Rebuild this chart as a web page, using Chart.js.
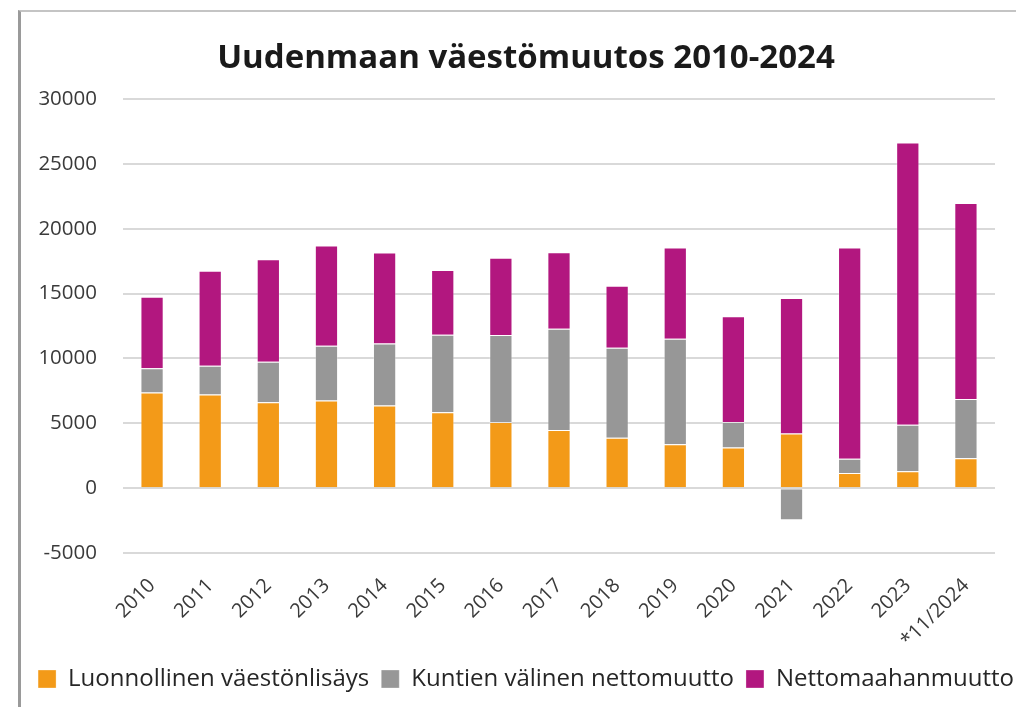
<!DOCTYPE html>
<html>
<head>
<meta charset="utf-8">
<script src="https://cdn.jsdelivr.net/npm/chart.js@4/dist/chart.umd.min.js"></script>
<style>
  html, body { margin: 0; padding: 0; background: #ffffff; overflow: hidden; width: 1016px; height: 707px; }
  #frame { position: absolute; left: 18px; top: 10px; width: 1100px; height: 760px;
           border-left: 3px solid #9a9a9a; border-top: 2px solid #c4c4c4; }
  #wrap { position: absolute; left: 0; top: 0; width: 1010px; height: 695px; }
</style>
</head>
<body>
<div id="frame"><div id="wrap"><canvas id="c" width="1010" height="695"></canvas></div></div>
<script>
const categories = ['2010','2011','2012','2013','2014','2015','2016','2017','2018','2019','2020','2021','2022','2023','*11/2024'];
const luonnollinen = [7370, 7220, 6630, 6750, 6370, 5860, 5090, 4490, 3880, 3390, 3130, 4210, 1160, 1310, 2310];
const kuntienValinen = [1880, 2210, 3110, 4220, 4780, 5960, 6710, 7790, 6940, 8120, 1960, -2470, 1100, 3570, 4570];
const nettomaahanmuutto = [5500, 7320, 7900, 7730, 7010, 4990, 5960, 5910, 4780, 7050, 8170, 10440, 16290, 21760, 15110];
const seriesNames = ['Luonnollinen väestönlisäys', 'Kuntien välinen nettomuutto', 'Nettomaahanmuutto'];
const yTicks = { min: -5000, max: 30000, step: 5000 };
const titleText = 'Uudenmaan väestömuutos 2010-2024';

const FONT = "'Open Sans', 'Noto Sans', sans-serif";

new Chart(document.getElementById('c'), {
  type: 'bar',
  data: {
    labels: categories,
    datasets: [
      { label: seriesNames[0], data: luonnollinen, backgroundColor: '#f39a18', borderColor: 'rgba(255,255,255,0.3)', borderWidth: 1 },
      { label: seriesNames[1], data: kuntienValinen, backgroundColor: '#979797', borderColor: 'rgba(255,255,255,0.3)', borderWidth: 1 },
      { label: seriesNames[2], data: nettomaahanmuutto, backgroundColor: '#b2177f', borderColor: 'rgba(255,255,255,0.3)', borderWidth: 1 }
    ]
  },
  options: {
    responsive: false,
    animation: false,
    devicePixelRatio: 1,
    layout: { padding: { left: 0, right: 0, top: 0, bottom: 6 } },
    datasets: { bar: { barPercentage: 0.4, categoryPercentage: 1.0 } },
    scales: {
      x: {
        stacked: true,
        grid: { display: false, drawTicks: false },
        border: { display: false },
        ticks: { color: '#3a3a3a', font: { family: FONT, size: 20 }, minRotation: 45, maxRotation: 45, padding: 21, autoSkip: false },
        afterFit: (s) => { s.height = 102; }
      },
      y: {
        stacked: true,
        min: yTicks.min, max: yTicks.max,
        grid: { color: '#d9d9d9', lineWidth: 2, drawTicks: false },
        border: { display: false },
        ticks: { stepSize: yTicks.step, color: '#3a3a3a', font: { family: FONT, size: 20.5 }, padding: 26,
                 callback: (v) => String(v) },
        afterFit: (s) => { s.width = 102; }
      },
      yr: {
        position: 'right',
        display: true,
        grid: { display: false, drawTicks: false },
        border: { display: false },
        ticks: { display: false },
        afterFit: (s) => { s.width = 36; }
      }
    },
    plugins: {
      title: {
        display: true,
        text: titleText,
        color: '#1a1a1a',
        font: { family: FONT, size: 33, weight: 'bold', lineHeight: 1.2 },
        padding: { top: 27.2, bottom: 20.2 }
      },
      legend: {
        position: 'bottom',
        labels: {
          color: '#262626',
          font: { family: FONT, size: 24 },
          boxWidth: 18, boxHeight: 18,
          padding: 12
        }
      },
      tooltip: { enabled: false }
    }
  }
});
</script>
</body>
</html>
